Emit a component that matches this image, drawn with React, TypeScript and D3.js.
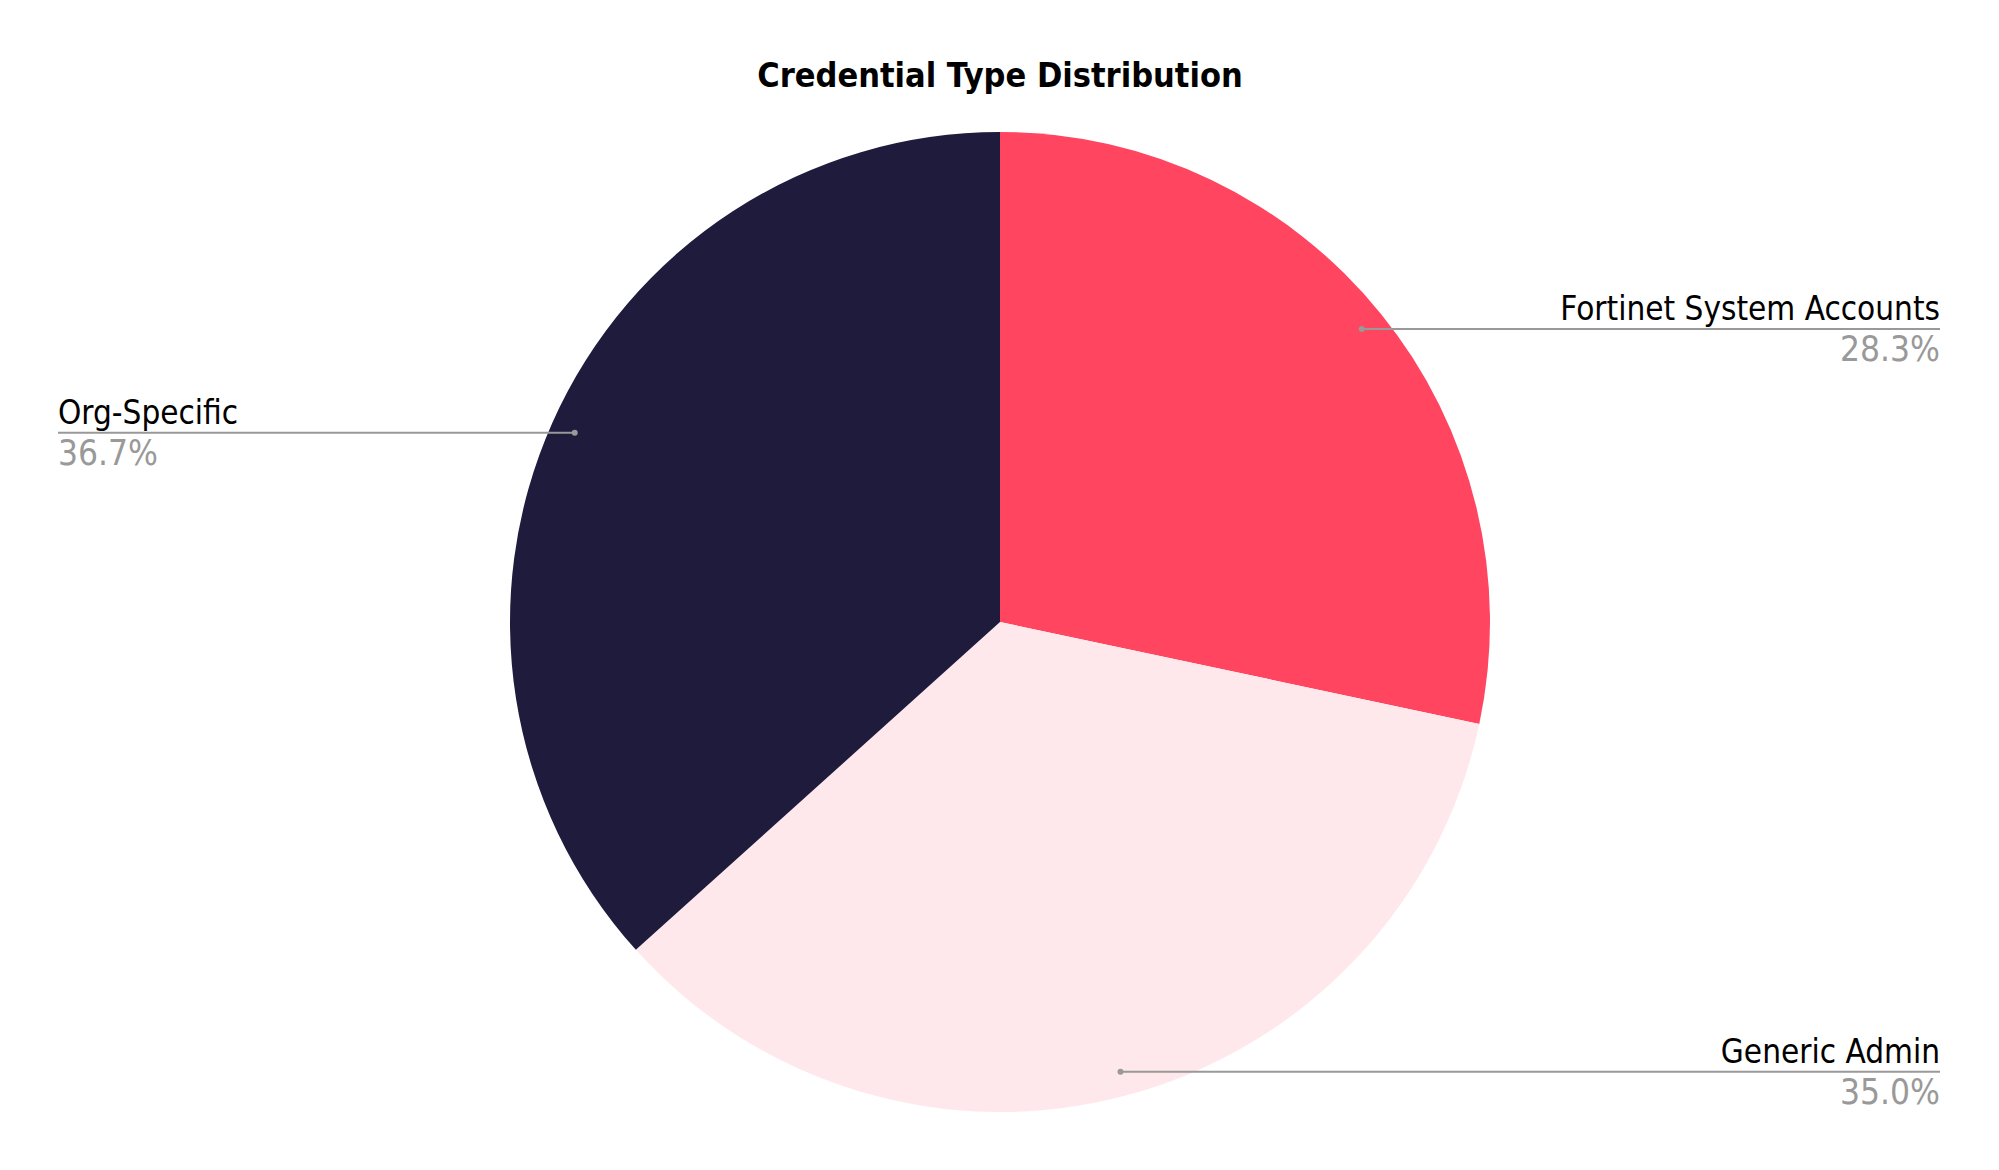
import React, { useEffect, useRef } from "react";
import * as d3 from "d3";

interface Slice {
    label: string;
    count: number;
    color: string;
}

const categories = ["Fortinet System Accounts", "Generic Admin", "Org-Specific"];
const counts = [17, 21, 22];
const sliceColors = ["#FF4560", "#FFE8EC", "#1E1B3D"];

const chartTitle = "Credential Type Distribution";

const width = 1999;
const height = 1170;

export default function App() {
    const svgRef = useRef<SVGSVGElement | null>(null);

    useEffect(() => {
        document.body.style.margin = "0";
        if (!svgRef.current) return;

        const data: Slice[] = categories.map((c, i) => ({ label: c, count: counts[i], color: sliceColors[i] }));
        const total = d3.sum(data, d => d.count);

        const svg = d3.select(svgRef.current);
        svg.selectAll("*").remove();

        const font = "'DejaVu Sans Condensed', 'DejaVu Sans', sans-serif";

        svg.append("text")
            .attr("x", 1000)
            .attr("y", 87)
            .attr("text-anchor", "middle")
            .attr("font-family", font)
            .attr("font-weight", "bold")
            .attr("font-size", 34)
            .attr("fill", "#000")
            .text(chartTitle);

        const cx = 1000;
        const cy = 622;
        const radius = 490;

        const pie = d3.pie<Slice>().sort(null).value(d => d.count);
        const arc = d3.arc<d3.PieArcDatum<Slice>>().innerRadius(0).outerRadius(radius);
        const arcs = pie(data);

        const g = svg.append("g").attr("transform", `translate(${cx},${cy})`);

        g.selectAll("path.slice")
            .data(arcs)
            .join("path")
            .attr("class", "slice")
            .attr("d", arc)
            .attr("fill", d => d.data.color);

        // leader lines: from a dot inside the slice out to the side edge
        const leftX = 58 - cx;
        const rightX = 1940 - cx;
        const dotR = radius * 0.95;

        const labels = g.selectAll("g.label")
            .data(arcs)
            .join("g")
            .attr("class", "label");

        labels.each(function (d) {
            const mid = (d.startAngle + d.endAngle) / 2;
            const px = Math.sin(mid) * dotR;
            const py = -Math.cos(mid) * dotR;
            const right = mid < Math.PI;
            const ex = right ? rightX : leftX;
            const sel = d3.select(this);

            sel.append("line")
                .attr("x1", px)
                .attr("y1", py)
                .attr("x2", ex)
                .attr("y2", py)
                .attr("stroke", "#999")
                .attr("stroke-width", 2);

            sel.append("circle")
                .attr("cx", px)
                .attr("cy", py)
                .attr("r", 3)
                .attr("fill", "#999");

            sel.append("text")
                .attr("x", ex)
                .attr("y", py - 9)
                .attr("text-anchor", right ? "end" : "start")
                .attr("font-family", font)
                .attr("font-size", 33)
                .attr("fill", "#000")
                .text(d.data.label);

            sel.append("text")
                .attr("x", ex)
                .attr("y", py + 32)
                .attr("text-anchor", right ? "end" : "start")
                .attr("font-family", font)
                .attr("font-size", 35)
                .attr("fill", "#999")
                .text(`${((d.data.count / total) * 100).toFixed(1)}%`);
        });
    }, []);

    return (
        <div style={{ width, height, background: "#fff" }}>
            <svg ref={svgRef} width={width} height={height} style={{ display: "block" }} />
        </div>
    );
}
